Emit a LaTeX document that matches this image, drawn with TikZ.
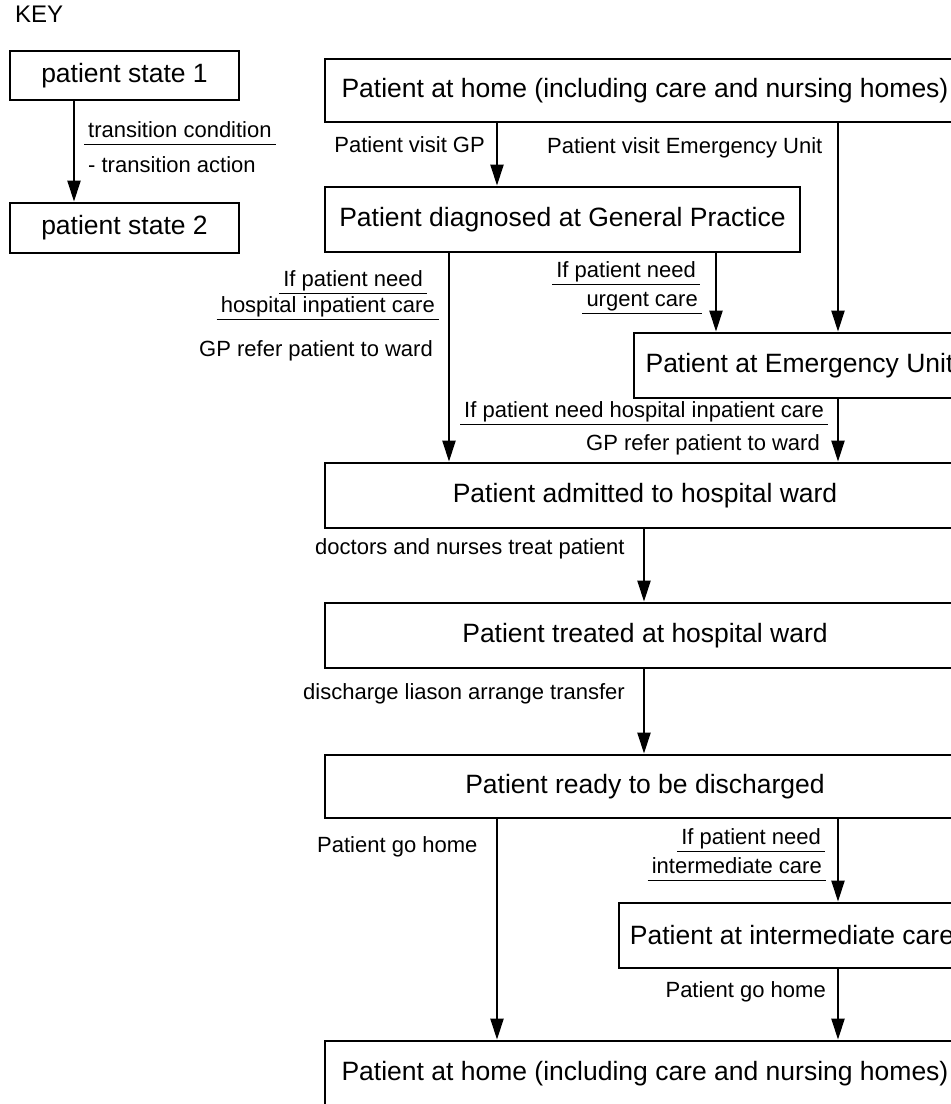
\documentclass[tikz,border=0pt]{standalone}
\usepackage{fontspec}
\setmainfont{Liberation Sans}
\usetikzlibrary{arrows.meta}

\begin{document}
\begin{tikzpicture}[x=1pt, y=-1pt,
  state/.style={draw, line width=2.8pt, inner sep=0pt, font=\fontsize{26.5}{30}\selectfont},
  lbl/.style={inner sep=0pt, font=\fontsize{22}{26}\selectfont},
  ulbl/.style={lbl, inner xsep=4pt, inner ysep=0.5pt, text height=16pt, text depth=6pt},
  uline/.style={line width=1.4pt},
  arr/.style={line width=2.2pt, -{Triangle[length=21pt,width=13pt]}}]

  % Fix page size, cut boxes at the right edge
  \useasboundingbox (0,0) rectangle (951,1104);
  \clip (0,0) rectangle (951,1104);

  % Columns of the arrows
  \coordinate (kx) at (74,0);
  \coordinate (c1) at (497,0);
  \coordinate (c2) at (449,0);
  \coordinate (c3) at (716,0);
  \coordinate (c4) at (838,0);
  \coordinate (c5) at (644,0);

  % Draw key
  \node [lbl, anchor=mid west, font=\fontsize{24}{28}\selectfont] (key) at (15,20) {KEY};
  \node [state, minimum width=229pt, minimum height=49pt] (s1) at (124.5,75.5) {patient state 1};
  \node [state, minimum width=229pt, minimum height=50pt] (s2) at (124.5,228) {patient state 2};
  \node [ulbl, anchor=mid west] (kc) at (84,135) {transition condition\hspace{7pt}};
  \node [lbl, anchor=mid west] (ka) at (88,170) {- transition action};
  \draw [arr] (s1.south -| kx) -- (s2.north -| kx);

  % Draw states
  \node [state, minimum width=640pt, minimum height=63pt] (home) at (645,90.5) {Patient at home (including care and nursing homes)};
  \node [state, minimum width=475pt, minimum height=65pt] (gp) at (562.5,219.5) {Patient diagnosed at General Practice};
  \node [state, minimum width=331pt, minimum height=65pt] (eu) at (799.5,365.5) {Patient at Emergency Unit};
  \node [state, minimum width=640pt, minimum height=65pt] (adm) at (645,495.5) {Patient admitted to hospital ward};
  \node [state, minimum width=640pt, minimum height=65pt] (trt) at (645,635.5) {Patient treated at hospital ward};
  \node [state, minimum width=640pt, minimum height=63pt] (rdy) at (645,786.5) {Patient ready to be discharged};
  \node [state, minimum width=346pt, minimum height=65pt] (imc) at (792,935.5) {Patient at intermediate care};
  \node [state, minimum width=640pt, minimum height=65pt] (home2) at (645,1073.5) {Patient at home (including care and nursing homes)};

  % Draw transition labels
  \node [lbl, anchor=mid east] (vgp) at (485,150) {Patient visit GP};
  \node [lbl, anchor=mid west] (veu) at (547,151) {Patient visit Emergency Unit};
  \node [ulbl, anchor=mid east] (l1) at (427,284) {If patient need};
  \node [ulbl, anchor=mid east] (l2) at (439,310) {hospital inpatient care\hspace{4pt}};
  \node [lbl, anchor=mid east] (l3) at (433,354) {GP refer patient to ward};
  \node [ulbl, anchor=mid east] (u1) at (700,275) {If patient need\hspace{3pt}};
  \node [ulbl, anchor=mid east] (u2) at (702,304) {urgent care};
  \node [ulbl, anchor=mid east] (h1) at (828,415) {If patient need hospital inpatient care};
  \node [lbl, anchor=mid east] (h2) at (820,448) {GP refer patient to ward};
  \node [lbl, anchor=mid west] (dn) at (315,552) {doctors and nurses treat patient};
  \node [lbl, anchor=mid west] (dl) at (303,697) {discharge liason arrange transfer};
  \node [lbl, anchor=mid west] (gh1) at (317,850) {Patient go home};
  \node [ulbl, anchor=mid east] (i1) at (825,842) {If patient need\hspace{5pt}};
  \node [ulbl, anchor=mid east] (i2) at (826,871) {intermediate care};
  \node [lbl, anchor=mid east] (gh2) at (826,995) {Patient go home};

  % Underline conditions
  \foreach \n in {kc,l1,l2,u1,u2,h1,i1,i2}
    \draw [uline] (\n.south west) -- (\n.south east);

  % Draw transitions
  \draw [arr] (home.south -| c1) -- (gp.north -| c1);
  \draw [arr] (home.south -| c4) -- (eu.north -| c4);
  \draw [arr] (gp.south -| c2) -- (adm.north -| c2);
  \draw [arr] (gp.south -| c3) -- (eu.north -| c3);
  \draw [arr] (eu.south -| c4) -- (adm.north -| c4);
  \draw [arr] (adm.south -| c5) -- (trt.north -| c5);
  \draw [arr] (trt.south -| c5) -- (rdy.north -| c5);
  \draw [arr] (rdy.south -| c1) -- (home2.north -| c1);
  \draw [arr] (rdy.south -| c4) -- (imc.north -| c4);
  \draw [arr] (imc.south -| c4) -- (home2.north -| c4);
\end{tikzpicture}
\end{document}
